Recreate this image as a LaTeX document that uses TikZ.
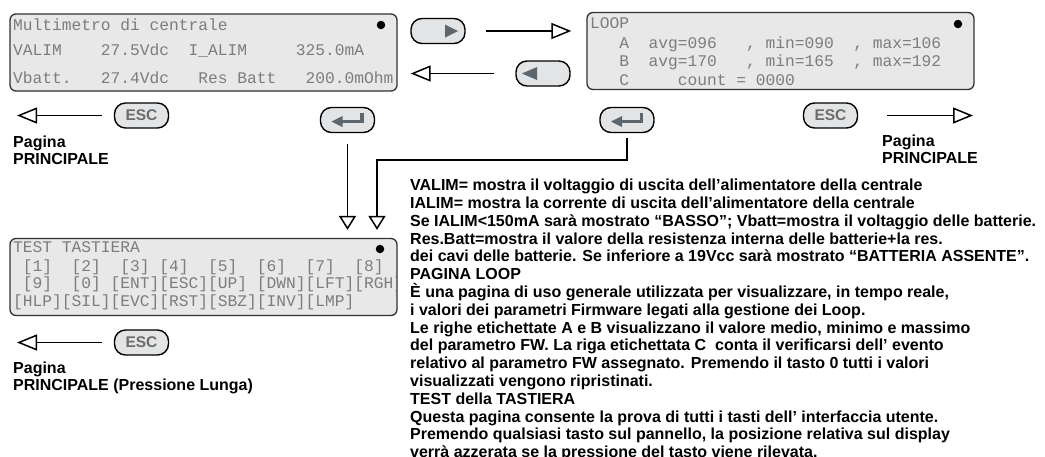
\documentclass[tikz,border=0pt]{standalone}
\usepackage{fontspec}
\setmainfont{Liberation Sans}
\setmonofont{Liberation Mono}
\usetikzlibrary{arrows.meta}
\definecolor{lcdfill}{RGB}{232,232,232}
\definecolor{lcdborder}{RGB}{50,50,50}
\definecolor{lcdtext}{RGB}{125,125,125}
\definecolor{btnfill}{RGB}{226,228,230}
\definecolor{iconc}{RGB}{92,102,108}
\definecolor{esctext}{RGB}{108,108,108}
\newcommand{\lcdfont}{\fontsize{16.25}{18}\selectfont\ttfamily}
\newcommand{\lblfont}{\fontsize{16}{17.5}\selectfont\bfseries}
\newcommand{\escfont}{\fontsize{15.5}{15.5}\selectfont\bfseries}
\begin{document}
\begin{tikzpicture}[x=1pt,y=-1pt,
  lcd/.style={draw=lcdborder, line width=1.3pt, fill=lcdfill, rounded corners=6pt, minimum width=387pt, minimum height=77pt, inner sep=0pt},
  lcdtxt/.style={anchor=base west, inner sep=0pt, text=lcdtext, font=\lcdfont},
  btn/.style={draw=black, line width=1.4pt, fill=btnfill, rounded corners=11pt, minimum width=54pt, minimum height=25pt, inner sep=0pt},
  esc/.style={btn, text=esctext, font=\escfont},
  harr/.style={line width=1.5pt, -{Triangle[open, length=20pt, width=16pt]}},
  varr/.style={line width=1.5pt, -{Triangle[open, length=14pt, width=17pt]}},
  lbl/.style={anchor=north west, inner sep=0pt, align=left, font=\lblfont},
  txt/.style={anchor=base west, inner sep=0pt, font=\lblfont},
  dot/.style={circle, fill=black, minimum size=8.5pt, inner sep=0pt}
]
\useasboundingbox (0,0) rectangle (1045,456);

% ---- displays
\node[lcd] (disp1) at (203.5,52.5) {};
\node[lcd] (disp2) at (780.5,51) {};
\node[lcd] (disp3) at (203.5,277) {};

\node[dot] (d1) at (381,25) {};
\node[dot] (d2) at (958,24) {};
\node[dot] (d3) at (380,249) {};

\node[lcdtxt] (a1) at (13,30.5) {Multimetro~di~centrale};
\node[lcdtxt] (a2) at (13,55.5) {VALIM~~~~27.5Vdc~~I\_ALIM~~~~~325.0mA};
\node[lcdtxt] (a3) at (13,83.5) {Vbatt.~~~27.4Vdc~~~Res~Batt~~~200.0mOhm};

\node[lcdtxt] (b1) at (590,28.5) {LOOP};
\node[lcdtxt] (b2) at (590,48.5) {~~~A~~avg=096~~~,~min=090~~,~max=106};
\node[lcdtxt] (b3) at (590,66.5) {~~~B~~avg=170~~~,~min=165~~,~max=192};
\node[lcdtxt] (b4) at (590,85.5) {~~~C~~~~~count~=~0000};

\begin{scope}
\clip (disp3.south west) rectangle (disp3.north east);
\node[lcdtxt] (c1) at (13,252.5) {TEST~TASTIERA};
\node[lcdtxt] (c2) at (13,271.5) {~[1]~~[2]~~[3]~[4]~~[5]~~[6]~~[7]~~[8]};
\node[lcdtxt] (c3) at (13,288.5) {~[9]~~[0]~[ENT][ESC][UP]~[DWN][LFT][RGH]};
\node[lcdtxt] (c4) at (13,306.5) {[HLP][SIL][EVC][RST][SBZ][INV][LMP]};
\end{scope}

% ---- buttons
\node[btn] (btnR) at (438,31) {};
\node[btn] (btnL) at (543,73.5) {};
\node[btn] (ent1) at (347.5,120) {};
\node[btn] (ent2) at (627,120) {};
\node[esc] (escL1) at (141.5,115.5) {ESC};
\node[esc] (escR) at (830.5,115.5) {ESC};
\node[esc] (escL2) at (141.5,342.5) {ESC};

% icons
\begin{scope}[shift={(btnR.center)}]
\fill[iconc] (7,-6.5) -- (20,0) -- (7,6.5) -- cycle;
\end{scope}
\begin{scope}[shift={(btnL.center)}]
\fill[iconc] (-6,-6.5) -- (-21,0) -- (-6,6.5) -- cycle;
\end{scope}
\begin{scope}[shift={(ent1.center)}]
\fill[iconc] (-16,1.5) -- (-5,-4) -- (-5,7) -- cycle;
\fill[iconc] (-5.5,0) rectangle (16,3.2);
\fill[iconc] (12.5,-7) rectangle (16,3.2);
\end{scope}
\begin{scope}[shift={(ent2.center)}]
\fill[iconc] (-16,1.5) -- (-5,-4) -- (-5,7) -- cycle;
\fill[iconc] (-5.5,0) rectangle (16,3.2);
\fill[iconc] (12.5,-7) rectangle (16,3.2);
\end{scope}

% ---- connectors
\draw[harr, shorten <=20pt, shorten >=15pt] (btnR.east) -- (btnR.east -| disp2.west);
\draw[harr, shorten <=21pt, shorten >=13pt] (btnL.west) -- (btnL.west -| disp1.east);
\coordinate (pp1) at (17,115.5);
\coordinate (pp2) at (973,115.5);
\coordinate (pp3) at (17,342.5);
\draw[harr, shorten <=12pt] (escL1.west) -- (pp1);
\draw[harr, shorten <=29pt] (escR.east) -- (pp2);
\draw[harr, shorten <=12pt] (escL2.west) -- (pp3);
\draw[varr, shorten <=11pt, shorten >=8pt] (ent1.south) -- (ent1.south |- disp3.north);
\coordinate (bend) at (377,160);
\draw[varr, shorten <=5pt, shorten >=8pt] (ent2.south) |- (bend) -- (bend |- disp3.north);

% ---- labels
\node[lbl] (lab1) at (13,135.3) {Pagina\\PRINCIPALE};
\node[lbl] (lab2) at (882,134.3) {Pagina\\PRINCIPALE};
\node[lbl] (lab3) at (13,361.3) {Pagina\\PRINCIPALE (Pressione Lunga)};

% ---- description
\node[txt] (t1) at (410,190.7) {VALIM= mostra il voltaggio di uscita dell’alimentatore della centrale};
\node[txt] (t2) at (410,208.5) {IALIM= mostra la corrente di uscita dell’alimentatore della centrale};
\node[txt] (t3) at (410,226.3) {Se IALIM<150mA sarà mostrato “BASSO”; Vbatt=mostra il voltaggio delle batterie.};
\node[txt] (t4) at (410,244.1) {Res.Batt=mostra il valore della resistenza interna delle batterie+la res.};
\node[txt] (t5) at (410,261.9) {dei cavi delle batterie. Se inferiore a 19Vcc sarà mostrato “BATTERIA ASSENTE”.};
\node[txt] (t6) at (410,279.7) {PAGINA LOOP};
\node[txt] (t7) at (410,297.5) {È una pagina di uso generale utilizzata per visualizzare, in tempo reale,};
\node[txt] (t8) at (410,315.3) {i valori dei parametri Firmware legati alla gestione dei Loop.};
\node[txt] (t9) at (410,333.1) {Le righe etichettate A e B visualizzano il valore medio, minimo e massimo};
\node[txt] (t10) at (410,350.9) {del parametro FW. La riga etichettata C~ conta il verificarsi dell’ evento};
\node[txt] (t11) at (410,368.7) {relativo al parametro FW assegnato. Premendo il tasto 0 tutti i valori};
\node[txt] (t12) at (410,386.5) {visualizzati vengono ripristinati.};
\node[txt] (t13) at (410,404.3) {TEST della TASTIERA};
\node[txt] (t14) at (410,422.1) {Questa pagina consente la prova di tutti i tasti dell’ interfaccia utente.};
\node[txt] (t15) at (410,439.9) {Premendo qualsiasi tasto sul pannello, la posizione relativa sul display};
\node[txt] (t16) at (410,457.7) {verrà azzerata se la pressione del tasto viene rilevata.};
\end{tikzpicture}
\end{document}
